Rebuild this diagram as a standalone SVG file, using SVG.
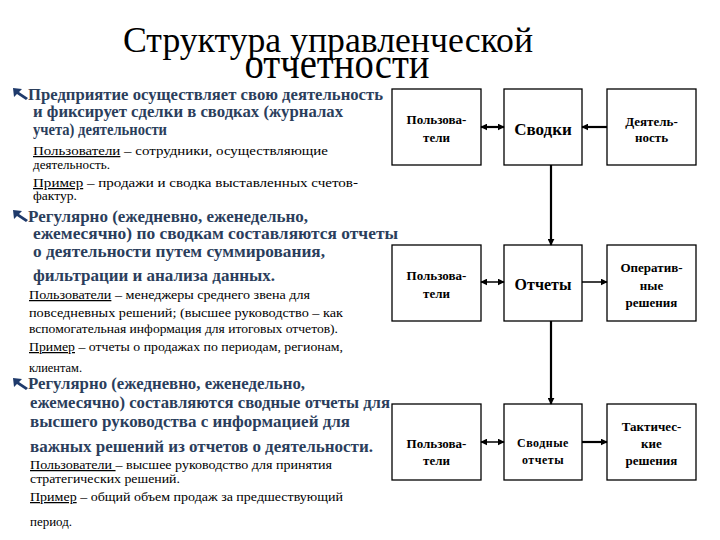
<svg xmlns="http://www.w3.org/2000/svg" width="720" height="540" viewBox="0 0 720 540">
<defs>
<style>
.title{font-family:"Liberation Serif","DejaVu Serif",serif;font-size:36px;fill:#000}
.b{font-family:"Liberation Serif","DejaVu Serif",serif;font-size:16px;font-weight:bold;fill:#2B3E5C}
.s{font-family:"Liberation Serif","DejaVu Serif",serif;font-size:12.5px;fill:#000}
.u{text-decoration:underline}
.box{fill:#fff;stroke:#000;stroke-width:1.3}
.bt{font-family:"Liberation Serif","DejaVu Serif",serif;font-weight:bold;font-size:13px;fill:#000;text-anchor:middle}
.big{font-size:16px}
.ln{fill:none;stroke:#000;stroke-width:1.5}
.thick{stroke-width:2.2}
.bullet{fill:#1F3A6B}
</style>
<marker id="ah" viewBox="0 0 10 10" refX="9" refY="5" markerWidth="7" markerHeight="7" markerUnits="userSpaceOnUse" orient="auto-start-reverse">
<path d="M0,0 L10,5 L0,10 Z" fill="#000"/>
</marker>
</defs>
<rect width="720" height="540" fill="#fff"/>

<g id="title">
<text class="title" x="328" y="52" text-anchor="middle" textLength="410" lengthAdjust="spacingAndGlyphs">Структура управленческой</text>
<text class="title" text-anchor="middle" transform="translate(337,78) scale(1,1.15)" style="font-size:38px" textLength="185" lengthAdjust="spacingAndGlyphs">отчетности</text>
</g>

<g id="block1">
<path class="bullet" d="M13,88 L22,89 L19,92 L28,98 L26,100 L17,94 L14,97 Z"/>
<text class="b" x="28" y="100" textLength="355" lengthAdjust="spacingAndGlyphs">Предприятие осуществляет свою деятельность</text>
<text class="b" x="33" y="117" textLength="310" lengthAdjust="spacingAndGlyphs">и фиксирует сделки в сводках (журналах</text>
<text class="b" x="33" y="135" textLength="134" lengthAdjust="spacingAndGlyphs">учета) деятельности</text>
<text class="s" x="33" y="155" textLength="295" lengthAdjust="spacingAndGlyphs"><tspan class="u">Пользователи</tspan> – сотрудники, осуществляющие</text>
<text class="s" x="33" y="169" textLength="77" lengthAdjust="spacingAndGlyphs">деятельность.</text>
<text class="s" x="33" y="187" textLength="325" lengthAdjust="spacingAndGlyphs"><tspan class="u">Пример</tspan> – продажи и сводка  выставленных счетов-</text>
<text class="s" x="33" y="200" textLength="44" lengthAdjust="spacingAndGlyphs">фактур.</text>
</g>

<g id="block2">
<path class="bullet" d="M13,210 L22,211 L19,214 L28,220 L26,222 L17,216 L14,219 Z"/>
<text class="b" x="28" y="222" textLength="280" lengthAdjust="spacingAndGlyphs">Регулярно (ежедневно, еженедельно,</text>
<text class="b" x="33" y="239" textLength="365" lengthAdjust="spacingAndGlyphs">ежемесячно) по сводкам составляются   отчеты</text>
<text class="b" x="33" y="257" textLength="292" lengthAdjust="spacingAndGlyphs">о деятельности путем суммирования,</text>
<text class="b" x="33" y="281" textLength="242" lengthAdjust="spacingAndGlyphs">фильтрации и анализа данных.</text>
<text class="s" x="29" y="299" textLength="281" lengthAdjust="spacingAndGlyphs"><tspan class="u">Пользователи</tspan> – менеджеры среднего звена для</text>
<text class="s" x="29" y="317" textLength="314" lengthAdjust="spacingAndGlyphs">повседневных решений; (высшее руководство –  как</text>
<text class="s" x="29" y="333" textLength="309" lengthAdjust="spacingAndGlyphs">вспомогательная информация для итоговых отчетов).</text>
<text class="s" x="29" y="351" textLength="314" lengthAdjust="spacingAndGlyphs"><tspan class="u">Пример</tspan> –  отчеты о продажах по периодам, регионам,</text>
<text class="s" x="29" y="372" textLength="53" lengthAdjust="spacingAndGlyphs">клиентам.</text>
</g>

<g id="block3">
<path class="bullet" d="M13,378 L22,379 L19,382 L28,388 L26,390 L17,384 L14,387 Z"/>
<text class="b" x="28" y="389" textLength="277" lengthAdjust="spacingAndGlyphs">Регулярно (ежедневно, еженедельно,</text>
<text class="b" x="30" y="408" textLength="360" lengthAdjust="spacingAndGlyphs">ежемесячно) составляются сводные отчеты для</text>
<text class="b" x="30" y="427" textLength="320" lengthAdjust="spacingAndGlyphs">высшего руководства с информацией для</text>
<text class="b" x="30" y="452" textLength="343" lengthAdjust="spacingAndGlyphs">важных решений из отчетов о деятельности.</text>
<text class="s" x="30" y="469" textLength="302" lengthAdjust="spacingAndGlyphs"><tspan class="u">Пользователи </tspan>– высшее руководство для принятия</text>
<text class="s" x="30" y="483" textLength="150" lengthAdjust="spacingAndGlyphs">стратегических решений.</text>
<text class="s" x="30" y="501" textLength="313" lengthAdjust="spacingAndGlyphs"><tspan class="u">Пример</tspan> – общий объем продаж за предшествующий</text>
<text class="s" x="30" y="526" textLength="42" lengthAdjust="spacingAndGlyphs">период.</text>
</g>

<g id="users1">
<rect class="box" x="392" y="89" width="89" height="76"/>
<text class="bt" x="436.5" y="124">Пользова-</text>
<text class="bt" x="436.5" y="142">тели</text>
</g>
<g id="svodki">
<rect class="box" x="504" y="89" width="78" height="76"/>
<text class="bt big" x="543" y="135" style="font-size:17px">Сводки</text>
</g>
<g id="activity">
<rect class="box" x="607" y="89" width="89" height="76"/>
<text class="bt" x="651.5" y="126">Деятель-</text>
<text class="bt" x="651.5" y="142">ность</text>
</g>

<g id="users2">
<rect class="box" x="392" y="245" width="89" height="76"/>
<text class="bt" x="436.5" y="280">Пользова-</text>
<text class="bt" x="436.5" y="298">тели</text>
</g>
<g id="reports">
<rect class="box" x="504" y="245" width="78" height="76"/>
<text class="bt big" x="543" y="290">Отчеты</text>
</g>
<g id="operative">
<rect class="box" x="607" y="245" width="89" height="76"/>
<text class="bt" x="651.5" y="272">Оператив-</text>
<text class="bt" x="651.5" y="290">ные</text>
<text class="bt" x="651.5" y="307">решения</text>
</g>

<g id="users3">
<rect class="box" x="392" y="404" width="89" height="76"/>
<text class="bt" x="436.5" y="448">Пользова-</text>
<text class="bt" x="436.5" y="465">тели</text>
</g>
<g id="summary">
<rect class="box" x="504" y="404" width="78" height="76"/>
<text class="bt" x="543" y="447" style="font-size:12px;letter-spacing:0.5px">Сводные</text>
<text class="bt" x="543" y="464" style="font-size:12px;letter-spacing:0.5px">отчеты</text>
</g>
<g id="tactical">
<rect class="box" x="607" y="404" width="89" height="76"/>
<text class="bt" x="651.5" y="431">Тактичес-</text>
<text class="bt" x="651.5" y="448">кие</text>
<text class="bt" x="651.5" y="465">решения</text>
</g>

<g id="connectors">
<line class="ln thick" x1="481" y1="127" x2="504" y2="127" marker-start="url(#ah)" marker-end="url(#ah)"/>
<line class="ln thick" x1="607" y1="127" x2="582" y2="127" marker-end="url(#ah)"/>
<line class="ln thick" x1="551" y1="165" x2="551" y2="245" marker-end="url(#ah)"/>
<line class="ln" x1="481" y1="282" x2="504" y2="282" marker-start="url(#ah)" marker-end="url(#ah)"/>
<line class="ln" x1="582" y1="282" x2="607" y2="282" marker-end="url(#ah)"/>
<line class="ln thick" x1="551" y1="321" x2="551" y2="404" marker-end="url(#ah)"/>
<line class="ln" x1="481" y1="442" x2="504" y2="442" marker-start="url(#ah)" marker-end="url(#ah)"/>
<line class="ln thick" x1="582" y1="442" x2="607" y2="442" marker-end="url(#ah)"/>
</g>
</svg>
